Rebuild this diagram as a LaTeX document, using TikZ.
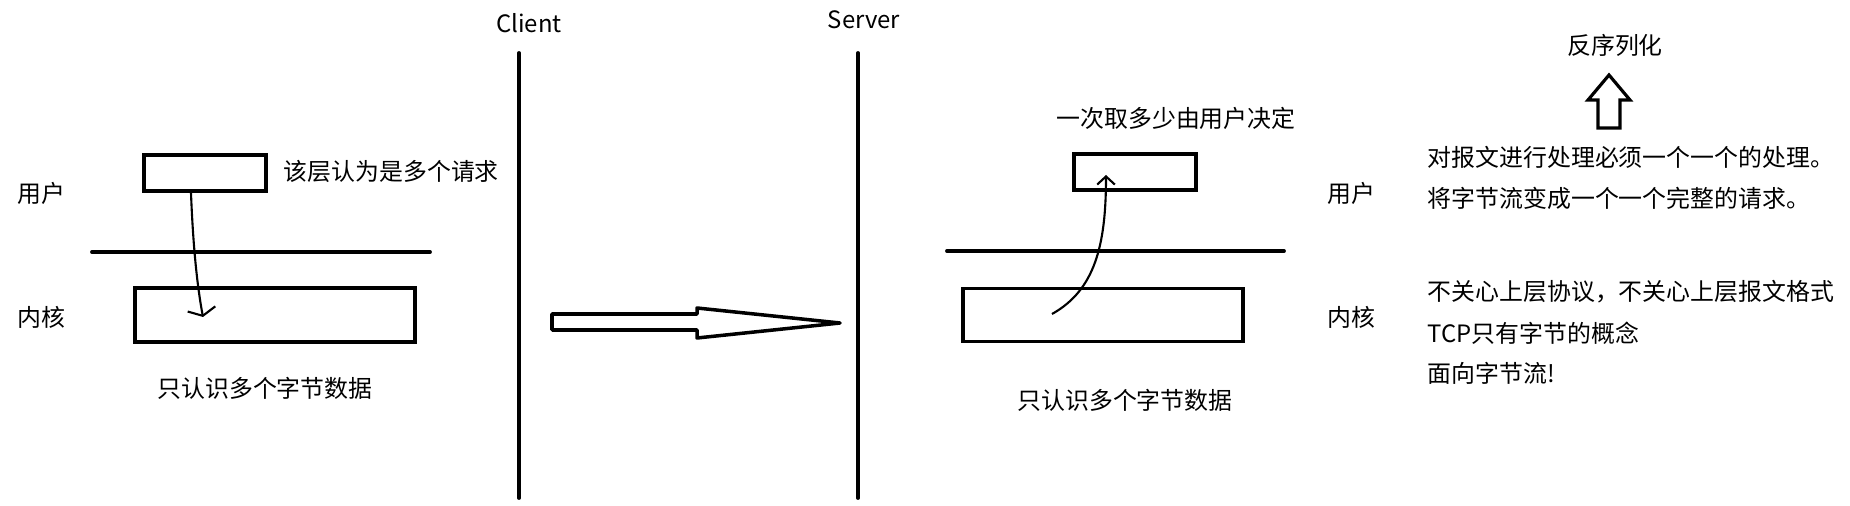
\documentclass[tikz,border=0pt]{standalone}
\usepackage{fontspec}
\setmainfont{Noto Sans CJK SC}
\usetikzlibrary{arrows.meta}

\begin{document}
\begin{tikzpicture}[
  every node/.style={font=\fontsize{6.8}{8}\selectfont},
  box/.style={draw,line width=1.1pt,inner sep=0pt},
  bar/.style={line width=1.1pt,line cap=round},
  flow/.style={line width=0.6pt}]
  \useasboundingbox (0,0) rectangle (18.5,5.05);

  % client side
  \node (CUL) at (0.41, 3.12) {用户};
  \node (CKL) at (0.41, 1.88) {内核};
  \node[box,minimum width=1.22cm,minimum height=0.36cm] (CU) at (2.05, 3.32) {};
  \node[box,minimum width=2.80cm,minimum height=0.54cm] (CK) at (2.75, 1.90) {};
  \node[anchor=west,inner sep=0] (CUT) at (2.83, 3.34) {该层认为是多个请求};
  \node (CKT) at (2.65, 1.17) {只认识多个字节数据};
  \draw[bar] (0.92, 2.53) -- (4.30, 2.53);
  \coordinate (CT) at (2.03, 1.88);
  \draw[flow,-{Straight Barb[length=2pt,width=8pt]}] ([xshift=-1.4mm]CU.south)
    .. controls (1.93, 2.6) and (1.97, 2.2) .. (CT);

  \node (CL) at (5.29, 4.82) {Client};
  \draw[bar] (5.19, 4.52) -- (5.19, 0.07);

  % transfer
  \draw[line width=1pt,line join=round] (5.52, 1.91) -- (6.97, 1.91) -- (6.97, 1.97)
    -- (8.40, 1.82) -- (6.97, 1.67) -- (6.97, 1.75) -- (5.52, 1.75) -- cycle;

  % server side
  \node (SL) at (8.64, 4.85) {Server};
  \draw[bar] (8.58, 4.52) -- (8.58, 0.07);

  \node[box,minimum width=1.22cm,minimum height=0.36cm] (SU) at (11.35, 3.33) {};
  \node[box,minimum width=2.80cm,minimum height=0.53cm] (SK) at (11.03, 1.90) {};
  \node (SUT) at (11.76, 3.87) {一次取多少由用户决定};
  \node (SKT) at (11.25, 1.05) {只认识多个字节数据};
  \draw[bar] (9.47, 2.54) -- (12.84, 2.54);
  \coordinate (SS) at (10.52, 1.91);
  \coordinate (ST) at (11.06, 3.30);
  \draw[flow,-{Straight Barb[length=2.3pt,width=5pt]}] (SS)
    .. controls (10.95, 2.15) and (11.06, 2.6) .. (ST);

  \node (SUL) at (13.51, 3.12) {用户};
  \node (SKL) at (13.51, 1.88) {内核};

  % notes
  \node (DS) at (16.15, 4.60) {反序列化};
  \draw[line width=0.9pt] (15.98, 3.77) -- (15.98, 4.05) -- (15.88, 4.05) -- (16.09, 4.30)
    -- (16.30, 4.05) -- (16.20, 4.05) -- (16.20, 3.77) -- cycle;

  \node[anchor=west,inner sep=0] (N1) at (14.27, 3.48) {对报文进行处理必须一个一个的处理。};
  \node[anchor=west,inner sep=0] (N2) at (14.27, 3.07) {将字节流变成一个一个完整的请求。};
  \node[anchor=west,inner sep=0] (N3) at (14.27, 2.13) {不关心上层协议，不关心上层报文格式};
  \node[anchor=west,inner sep=0] (N4) at (14.27, 1.72) {TCP只有字节的概念};
  \node[anchor=west,inner sep=0] (N5) at (14.27, 1.32) {面向字节流!};
\end{tikzpicture}
\end{document}
